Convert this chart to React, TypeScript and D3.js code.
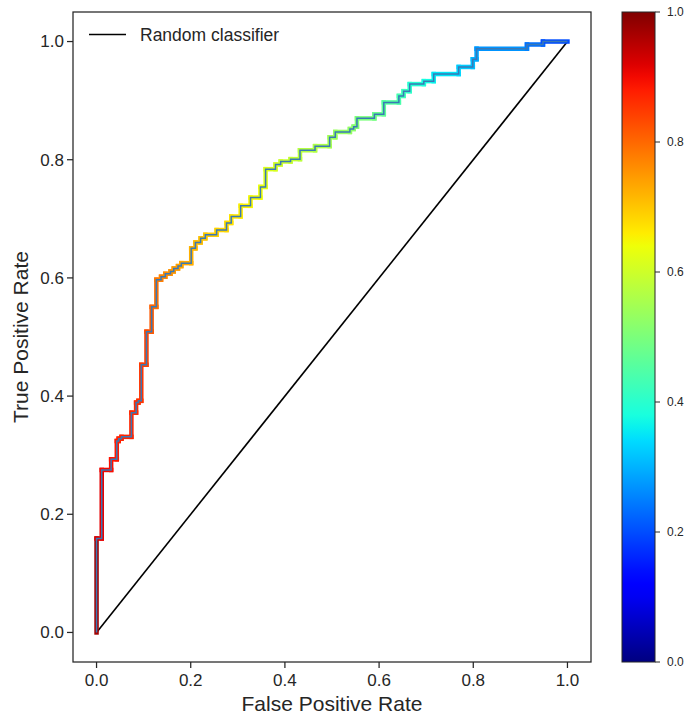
import React from "react";
import * as d3 from "d3";

const fpr = [0, 0, 0.011, 0.011, 0.031, 0.031, 0.043, 0.043, 0.047, 0.047, 0.053, 0.053, 0.074, 0.074, 0.084, 0.084, 0.089, 0.089, 0.095, 0.095, 0.106, 0.106, 0.117, 0.117, 0.127, 0.127, 0.137, 0.137, 0.146, 0.146, 0.157, 0.157, 0.164, 0.164, 0.173, 0.173, 0.18, 0.18, 0.201, 0.201, 0.21, 0.21, 0.221, 0.221, 0.231, 0.231, 0.255, 0.255, 0.276, 0.276, 0.286, 0.286, 0.306, 0.306, 0.327, 0.327, 0.348, 0.348, 0.359, 0.359, 0.38, 0.38, 0.391, 0.391, 0.412, 0.412, 0.432, 0.432, 0.464, 0.464, 0.495, 0.495, 0.507, 0.507, 0.538, 0.538, 0.546, 0.546, 0.553, 0.553, 0.59, 0.59, 0.61, 0.61, 0.642, 0.642, 0.652, 0.652, 0.665, 0.665, 0.695, 0.695, 0.716, 0.716, 0.769, 0.769, 0.799, 0.799, 0.807, 0.807, 0.914, 0.914, 0.948, 0.948, 1.0];
const tpr = [0, 0.159, 0.159, 0.275, 0.275, 0.293, 0.293, 0.324, 0.324, 0.328, 0.328, 0.331, 0.331, 0.372, 0.372, 0.389, 0.389, 0.392, 0.392, 0.453, 0.453, 0.509, 0.509, 0.551, 0.551, 0.597, 0.597, 0.602, 0.602, 0.607, 0.607, 0.611, 0.611, 0.616, 0.616, 0.62, 0.62, 0.625, 0.625, 0.65, 0.65, 0.66, 0.66, 0.667, 0.667, 0.673, 0.673, 0.681, 0.681, 0.693, 0.693, 0.704, 0.704, 0.722, 0.722, 0.736, 0.736, 0.754, 0.754, 0.784, 0.784, 0.792, 0.792, 0.797, 0.797, 0.801, 0.801, 0.816, 0.816, 0.823, 0.823, 0.838, 0.838, 0.847, 0.847, 0.852, 0.852, 0.856, 0.856, 0.87, 0.87, 0.877, 0.877, 0.897, 0.897, 0.908, 0.908, 0.916, 0.916, 0.928, 0.928, 0.933, 0.933, 0.945, 0.945, 0.957, 0.957, 0.97, 0.97, 0.988, 0.988, 0.995, 0.995, 1.0, 1.0];
const thresholds = [1.0, 0.97, 0.92, 0.91, 0.9, 0.895, 0.89, 0.885, 0.88, 0.878, 0.876, 0.874, 0.872, 0.87, 0.868, 0.866, 0.864, 0.862, 0.86, 0.855, 0.85, 0.84, 0.83, 0.815, 0.805, 0.79, 0.782, 0.776, 0.77, 0.765, 0.76, 0.756, 0.752, 0.75, 0.746, 0.743, 0.74, 0.737, 0.733, 0.725, 0.72, 0.715, 0.712, 0.708, 0.705, 0.7, 0.695, 0.69, 0.685, 0.68, 0.676, 0.672, 0.668, 0.66, 0.655, 0.65, 0.645, 0.64, 0.635, 0.62, 0.615, 0.61, 0.605, 0.6, 0.595, 0.59, 0.585, 0.575, 0.57, 0.565, 0.56, 0.55, 0.545, 0.54, 0.535, 0.53, 0.525, 0.52, 0.515, 0.505, 0.5, 0.49, 0.48, 0.465, 0.455, 0.44, 0.435, 0.425, 0.42, 0.405, 0.395, 0.385, 0.375, 0.36, 0.35, 0.335, 0.325, 0.31, 0.305, 0.29, 0.27, 0.25, 0.235, 0.22, 0.2];

const axisTicks = [0, 0.2, 0.4, 0.6, 0.8, 1.0];
const cbarTicks = [0, 0.2, 0.4, 0.6, 0.8, 1.0];
const legendLabel = "Random classifier";
const xLabel = "False Positive Rate";
const yLabel = "True Positive Rate";

function interp(pts: number[][], v: number) {
  for (let i = 0; i < pts.length - 1; i++) {
    const [x0, y0] = pts[i];
    const [x1, y1] = pts[i + 1];
    if (v >= x0 && v <= x1) return x1 === x0 ? y1 : y0 + ((v - x0) / (x1 - x0)) * (y1 - y0);
  }
  return pts[pts.length - 1][1];
}
const JR = [[0, 0], [0.35, 0], [0.66, 1], [0.89, 1], [1, 0.5]];
const JG = [[0, 0], [0.125, 0], [0.375, 1], [0.64, 1], [0.91, 0], [1, 0]];
const JB = [[0, 0.5], [0.11, 1], [0.34, 1], [0.65, 0], [1, 0]];
function jet(v: number) {
  const c = Math.max(0, Math.min(1, v));
  return d3.rgb(interp(JR, c) * 255, interp(JG, c) * 255, interp(JB, c) * 255).formatHex();
}

export default function App() {
  const L = 73, R = 591, T = 12, B = 662;
  const x = d3.scaleLinear().domain([-0.05, 1.05]).range([L, R]);
  const y = d3.scaleLinear().domain([-0.05, 1.05]).range([B, T]);
  const cbL = 622, cbR = 655;
  const cy = d3.scaleLinear().domain([0, 1]).range([B, T]);
  const txt = "#262626";
  const font = "'Liberation Sans', Arial, sans-serif";

  const pts = fpr.map((f, i) => [f, tpr[i]] as [number, number]);
  const line = d3.line<[number, number]>().x((d) => x(d[0])).y((d) => y(d[1]));

  const stops = d3.range(0, 1.0001, 0.02);

  return (
    <div style={{ position: "absolute", left: 0, top: 0 }}>
      <svg width={686} height={714} style={{ display: "block", fontFamily: font }}>
        <defs>
          <linearGradient id="jetgrad" x1="0" y1="1" x2="0" y2="0">
            {stops.map((s, i) => (
              <stop key={i} offset={s} stopColor={jet(s)} />
            ))}
          </linearGradient>
        </defs>
        <rect x={0} y={0} width={686} height={714} fill="#fff" />
        <line x1={x(0)} y1={y(0)} x2={x(1)} y2={y(1)} stroke="#000" strokeWidth={1.6} />
        {pts.slice(0, -1).map((p, i) => (
          <line
            key={i}
            x1={x(p[0])}
            y1={y(p[1])}
            x2={x(pts[i + 1][0])}
            y2={y(pts[i + 1][1])}
            stroke={jet(thresholds[i + 1])}
            strokeWidth={4.5}
            strokeLinecap="square"
          />
        ))}
        <path d={line(pts) || ""} fill="none" stroke="#3a78b5" strokeWidth={1.5} />
        <rect x={L} y={T} width={R - L} height={B - T} fill="none" stroke={txt} strokeWidth={1.25} />
        {axisTicks.map((t) => (
          <g key={"x" + t}>
            <line x1={x(t)} x2={x(t)} y1={B} y2={B + 6} stroke={txt} strokeWidth={1.25} />
            <text x={x(t)} y={B + 24} textAnchor="middle" fontSize={17} fill={txt}>
              {t.toFixed(1)}
            </text>
          </g>
        ))}
        {axisTicks.map((t) => (
          <g key={"y" + t}>
            <line x1={L - 6} x2={L} y1={y(t)} y2={y(t)} stroke={txt} strokeWidth={1.25} />
            <text x={L - 9} y={y(t)} dy="0.35em" textAnchor="end" fontSize={17} fill={txt}>
              {t.toFixed(1)}
            </text>
          </g>
        ))}
        <text x={(L + R) / 2} y={711} textAnchor="middle" fontSize={21} fill={txt}>
          {xLabel}
        </text>
        <text
          transform={`translate(28, ${(T + B) / 2}) rotate(-90)`}
          textAnchor="middle"
          fontSize={21}
          fill={txt}
        >
          {yLabel}
        </text>
        <line x1={89} x2={126} y1={34.5} y2={34.5} stroke="#000" strokeWidth={1.5} />
        <text x={140} y={34.5} dy="0.35em" fontSize={17.5} fill={txt}>
          {legendLabel}
        </text>
        <rect x={cbL} y={T} width={cbR - cbL} height={B - T} fill="url(#jetgrad)" stroke={txt} strokeWidth={1} />
        {cbarTicks.map((t) => (
          <g key={"c" + t}>
            <line x1={cbR} x2={cbR + 5} y1={cy(t)} y2={cy(t)} stroke={txt} strokeWidth={1} />
            <text x={cbR + 12} y={cy(t)} dy="0.35em" fontSize={12} fill={txt}>
              {t.toFixed(1)}
            </text>
          </g>
        ))}
      </svg>
    </div>
  );
}
